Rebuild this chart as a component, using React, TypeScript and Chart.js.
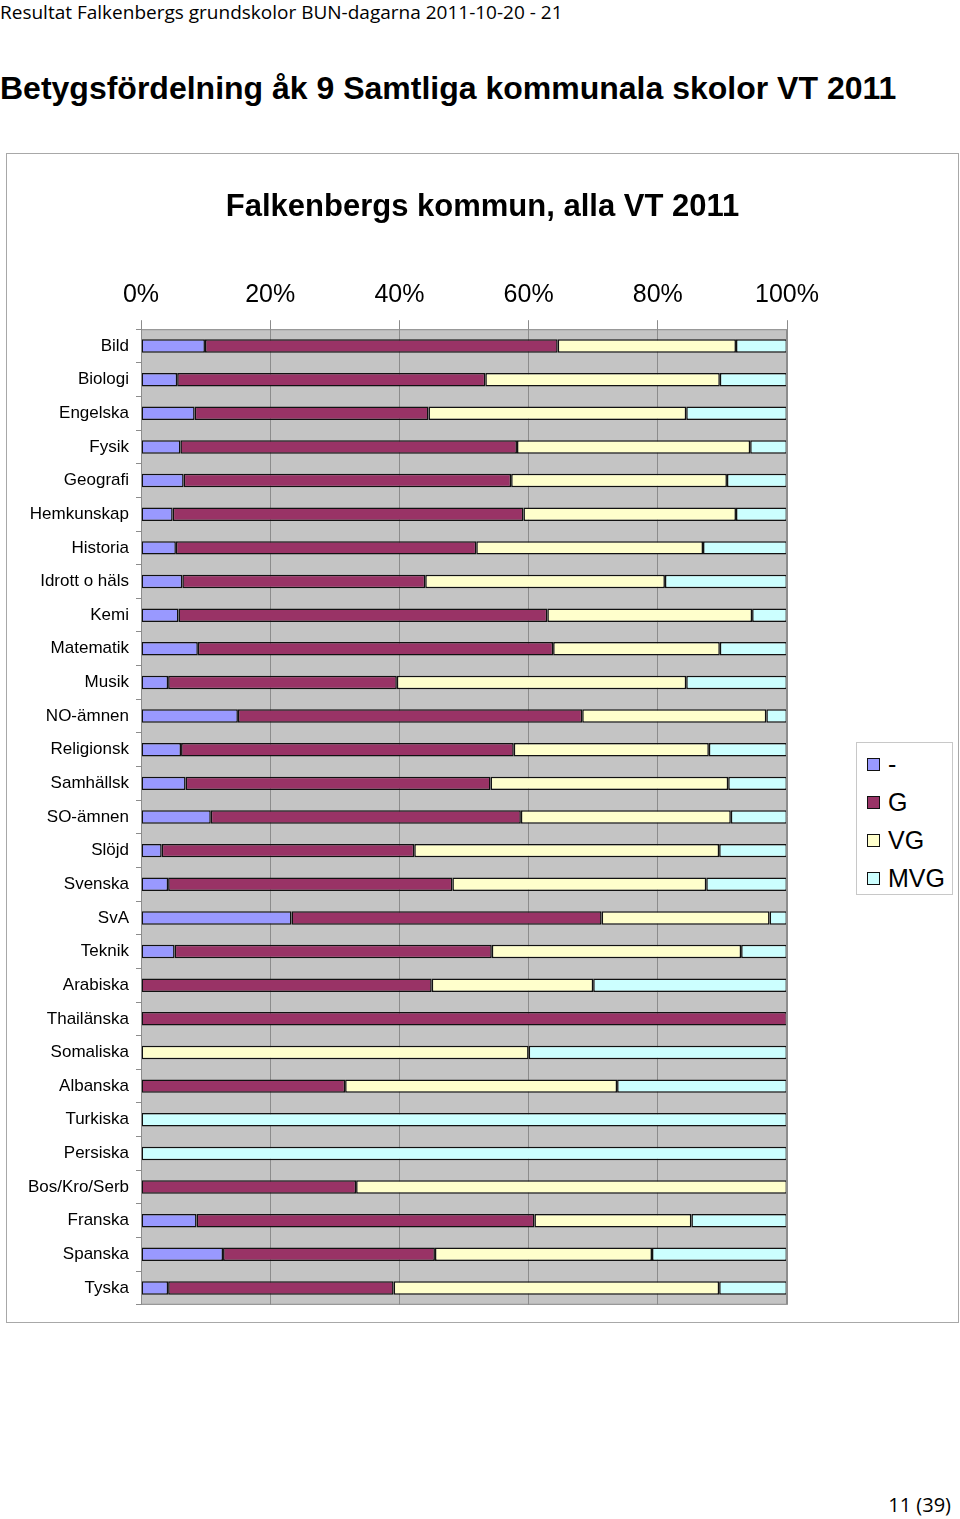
import React, { useEffect, useRef } from "react";
import { Chart, registerables } from "chart.js";
Chart.register(...registerables);

const categories = ["Bild", "Biologi", "Engelska", "Fysik", "Geografi", "Hemkunskap", "Historia", "Idrott o häls", "Kemi", "Matematik", "Musik", "NO-ämnen", "Religionsk", "Samhällsk", "SO-ämnen", "Slöjd", "Svenska", "SvA", "Teknik", "Arabiska", "Thailänska", "Somaliska", "Albanska", "Turkiska", "Persiska", "Bos/Kro/Serb", "Franska", "Spanska", "Tyska"];

const seriesNames = ["-", "G", "VG", "MVG"];
const dashValues = [9.9, 5.6, 8.3, 6.1, 6.6, 4.9, 5.4, 6.4, 5.8, 8.8, 4.2, 15.0, 6.2, 6.9, 10.8, 3.2, 4.2, 23.3, 5.2, 0, 0, 0, 0, 0, 0, 0, 8.6, 12.7, 4.2];
const gValues = [54.6, 47.7, 36.2, 52.1, 50.7, 54.3, 46.5, 37.6, 57.1, 55.0, 35.4, 53.3, 51.5, 47.2, 48.0, 39.1, 44.0, 48.0, 49.1, 45.0, 100, 0, 31.6, 0, 0, 33.3, 52.3, 32.8, 34.9];
const vgValues = [27.6, 36.3, 39.9, 36.1, 33.4, 32.9, 35.1, 37.1, 31.7, 25.8, 44.8, 28.5, 30.2, 36.8, 32.5, 47.2, 39.3, 26.0, 38.6, 25.0, 0, 60.0, 42.1, 0, 0, 66.7, 24.3, 33.6, 50.4];
const mvgValues = [7.9, 10.4, 15.6, 5.7, 9.3, 7.9, 13.0, 18.9, 5.4, 10.4, 15.6, 3.2, 12.1, 9.1, 8.7, 10.5, 12.5, 2.7, 7.1, 30.0, 0, 40.0, 26.3, 100, 100, 0, 14.8, 20.9, 10.5];
const xTicks = [0, 20, 40, 60, 80, 100];

const seriesColors = ["#9999ff", "#993366", "#ffffcc", "#ccffff"];
const FONT = "'Liberation Sans', Arial, sans-serif";

const plotBg = {
  id: "plotBg",
  beforeDraw(chart: any) {
    const { ctx, chartArea: a } = chart;
    ctx.save();
    ctx.fillStyle = "#c4c4c4";
    ctx.fillRect(a.left, a.top, a.right - a.left, a.bottom - a.top);
    ctx.restore();
  },
  afterDraw(chart: any) {
    const { ctx, chartArea: a } = chart;
    ctx.save();
    ctx.strokeStyle = "#8c8c8c";
    ctx.lineWidth = 1;
    ctx.strokeRect(a.left + 0.5, a.top + 0.5, a.right - a.left - 1, a.bottom - a.top - 1);
    ctx.restore();
  },
};

export default function App() {
  const ref = useRef<HTMLCanvasElement | null>(null);
  useEffect(() => {
    if (!ref.current) return;
    const all = [dashValues, gValues, vgValues, mvgValues];
    const chart = new Chart(ref.current, {
      type: "bar",
      data: {
        labels: categories,
        datasets: all.map((d, i) => ({
          label: seriesNames[i],
          data: d,
          backgroundColor: seriesColors[i],
          borderColor: "#111111",
          borderWidth: 1.5,
          borderSkipped: false,
          barPercentage: 0.4,
          categoryPercentage: 1,
        })),
      },
      plugins: [plotBg],
      options: {
        indexAxis: "y",
        animation: false,
        responsive: false,
        maintainAspectRatio: false,
        layout: { padding: { top: 35, left: 0, right: 0, bottom: 15 } },
        plugins: {
          legend: { display: false },
          tooltip: { enabled: false },
          title: {
            display: true,
            text: "Falkenbergs kommun, alla VT 2011",
            color: "#000",
            font: { family: FONT, size: 31, weight: "bold", lineHeight: 1.2 },
            padding: { top: 0, bottom: 0 },
          },
        },
        scales: {
          x: {
            position: "top",
            stacked: true,
            min: 0,
            max: 100,
            afterBuildTicks: (s: any) => {
              s.ticks = xTicks.map((v) => ({ value: v }));
            },
            afterFit: (s: any) => {
              s.height = 103;
            },
            ticks: {
              color: "#000",
              font: { family: FONT, size: 25, lineHeight: 1.2 },
              padding: 10,
              callback: (v: any) => v + "%",
              maxRotation: 0,
            },
            grid: { color: "#8c8c8c", lineWidth: 1, tickLength: 9, drawTicks: true },
            border: { display: false },
          },
          y: {
            stacked: true,
            afterFit: (s: any) => {
              s.width = 134;
            },
            ticks: {
              color: "#000",
              font: { family: FONT, size: 17 },
              padding: 7,
              autoSkip: false,
            },
            grid: { drawOnChartArea: false, tickLength: 5, color: "#8c8c8c" },
            border: { display: false },
          },
          spacer: {
            type: "linear",
            axis: "y",
            position: "right",
            display: true,
            afterFit: (s: any) => {
              s.width = 171;
            },
            ticks: { display: false },
            grid: { display: false },
            border: { display: false },
          },
        },
      },
    } as any);
    return () => chart.destroy();
  }, []);

  return (
    <div style={{ position: "absolute", left: 0, top: 0, width: 960, height: 1519, background: "#fff", overflow: "hidden" }}>
      <div style={{ position: "absolute", left: 0, top: 0, fontFamily: "'Open Sans', 'Noto Sans', sans-serif", fontSize: 19, lineHeight: "24px", whiteSpace: "nowrap", color: "#000" }}>
        Resultat Falkenbergs grundskolor BUN-dagarna 2011-10-20 - 21
      </div>
      <div style={{ position: "absolute", left: 0, top: 68, fontFamily: FONT, fontWeight: "bold", fontSize: 32, lineHeight: "40px", whiteSpace: "nowrap", color: "#000" }}>
        Betygsfördelning åk 9 Samtliga kommunala skolor VT 2011
      </div>
      <div style={{ position: "absolute", left: 6, top: 153, width: 951, height: 1168, border: "1px solid #a8a8a8" }} />
      <canvas ref={ref} width={951} height={1168} style={{ position: "absolute", left: 7, top: 154, width: 951, height: 1168 }} />
      <div style={{ position: "absolute", left: 856, top: 742, width: 95, height: 151, border: "1px solid #c8c8c8", background: "#fff", fontFamily: FONT, fontSize: 25, color: "#000" }}>
        {seriesNames.map((n, i) => (
          <div key={n} style={{ position: "absolute", left: 10, top: 6 + i * 38, height: 30, display: "flex", alignItems: "center", whiteSpace: "nowrap" }}>
            <span style={{ display: "inline-block", width: 11, height: 11, background: seriesColors[i], border: "1.5px solid #111", marginRight: 8 }} />
            <span>{n}</span>
          </div>
        ))}
      </div>
      <div style={{ position: "absolute", right: 9, top: 1493, fontFamily: "'Open Sans', 'Noto Sans', sans-serif", fontSize: 20, lineHeight: "24px", whiteSpace: "nowrap", color: "#000" }}>
        11 (39)
      </div>
    </div>
  );
}
